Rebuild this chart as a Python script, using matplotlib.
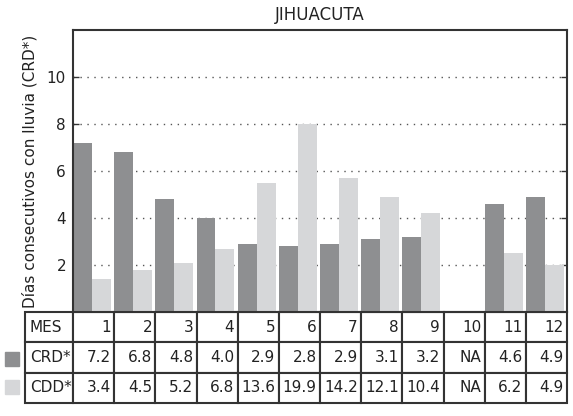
import numpy as np
import matplotlib
matplotlib.use('Agg')
import matplotlib.pyplot as plt
from matplotlib.patches import Rectangle

plt.rcParams['font.family'] = ['DejaVu Sans']

# Datos
meses = [1, 2, 3, 4, 5, 6, 7, 8, 9, 10, 11, 12]
crd_barras = [7.2, 6.8, 4.8, 4.0, 2.9, 2.8, 2.9, 3.1, 3.2, np.nan, 4.6, 4.9]
cdd_barras = [1.4, 1.8, 2.1, 2.7, 5.5, 8.0, 5.7, 4.9, 4.2, np.nan, 2.5, 2.0]
crd_tabla = ['7.2', '6.8', '4.8', '4.0', '2.9', '2.8', '2.9', '3.1', '3.2', 'NA', '4.6', '4.9']
cdd_tabla = ['3.4', '4.5', '5.2', '6.8', '13.6', '19.9', '14.2', '12.1', '10.4', 'NA', '6.2', '4.9']

color_crd = '#8e8f91'
color_cdd = '#d6d7d9'
color_linea = '#333333'
color_texto = '#222222'

W, H = 573, 416
fig = plt.figure(figsize=(W / 100, H / 100), dpi=100)
# ejes en pixeles: x 73-567, y 30-312
ax = fig.add_axes([73 / W, 1 - 312 / H, 494 / W, 282 / H])

x = np.array(meses, dtype=float)
ancho = 0.46
ax.bar(x - 0.5, crd_barras, ancho, align='edge', color=color_crd, zorder=2)
ax.bar(x - 0.5 + ancho, cdd_barras, ancho, align='edge', color=color_cdd, zorder=2)

ax.set_xlim(0.5, 12.5)
ax.set_ylim(0, 12)
ax.set_yticks([2, 4, 6, 8, 10])
ax.set_xticks([])
ax.yaxis.grid(True, linestyle=(0, (1, 4)), color='#555555', linewidth=1, zorder=1)
ax.tick_params(axis='y', direction='in', right=True, length=4, width=1,
               color=color_linea, labelsize=11, pad=5, labelcolor=color_texto)
for s in ax.spines.values():
    s.set_linewidth(1.5)
    s.set_color(color_linea)

ax.set_title('JIHUACUTA', fontsize=12, color=color_texto, pad=7)
ax.set_ylabel('Días consecutivos con lluvia (CRD*)', fontsize=11, color=color_texto, labelpad=7)

# Tabla debajo del gráfico
filas = [['MES'] + [str(m) for m in meses],
         ['CRD*'] + crd_tabla,
         ['CDD*'] + cdd_tabla]
ancho_col0 = 48 / 494
ancho_mes = 1 / 12
tabla = ax.table(cellText=filas,
                 colWidths=[ancho_col0] + [ancho_mes] * 12,
                 bbox=[-ancho_col0, -91 / 282, 1 + ancho_col0, 91 / 282],
                 cellLoc='right')
tabla.auto_set_font_size(False)
tabla.set_fontsize(11)
for (r, c), celda in tabla.get_celld().items():
    celda.set_linewidth(1.5)
    celda.set_edgecolor(color_linea)
    celda.PAD = 0.08
    celda.get_text().set_color(color_texto)
    if c == 0:
        celda.get_text().set_ha('left')
        celda._loc = 'left'
        celda.PAD = 0.1

# Cuadros de leyenda a la izquierda de la tabla
fig.patches.append(Rectangle((5 / W, 1 - 366 / H), 14 / W, 14 / H,
                             transform=fig.transFigure, color=color_crd))
fig.patches.append(Rectangle((5 / W, 1 - 394 / H), 14 / W, 14 / H,
                             transform=fig.transFigure, color=color_cdd))

plt.savefig('out.png', dpi=100)
